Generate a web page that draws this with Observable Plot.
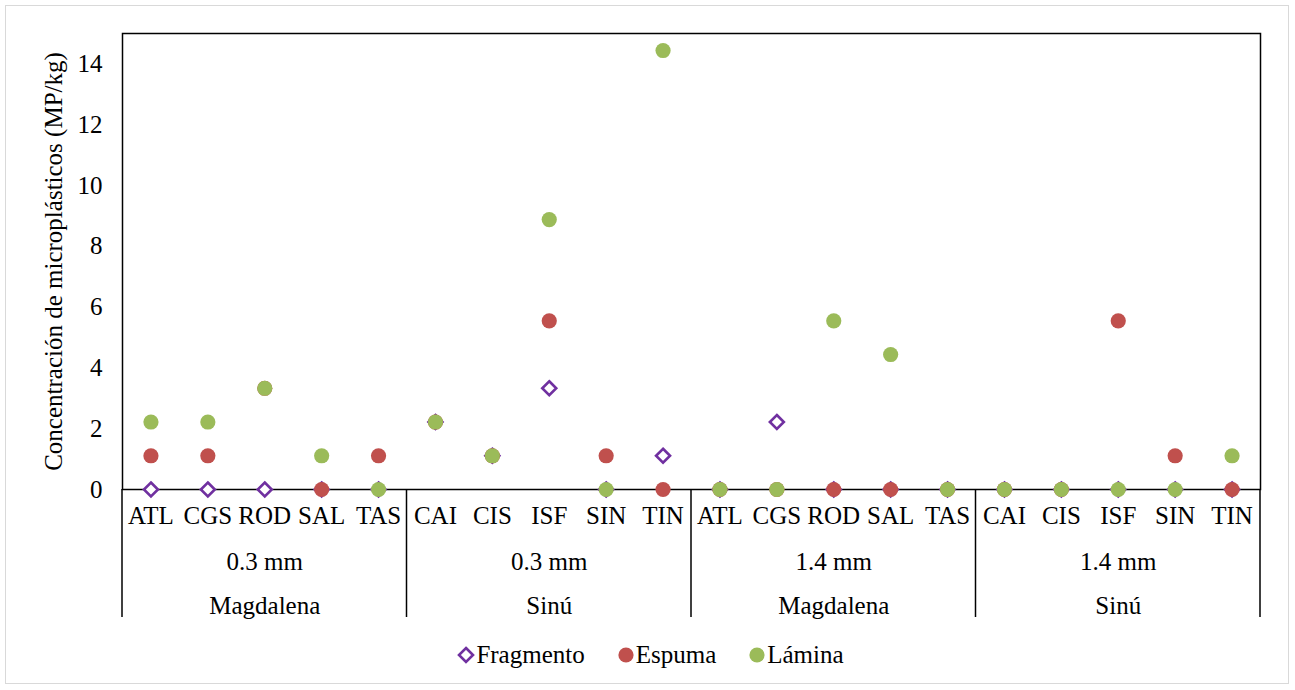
<!DOCTYPE html>
<html>
<head>
<meta charset="utf-8">
<script src="https://cdn.jsdelivr.net/npm/d3@7"></script>
<script src="https://cdn.jsdelivr.net/npm/@observablehq/plot@0.6"></script>
<style>
  body { margin: 0; background: #fff; font-family: "Liberation Serif", "Times New Roman", serif; }
  #wrap { position: relative; width: 1295px; height: 690px; overflow: hidden; }
  #border { position: absolute; left: 5px; top: 5px; width: 1284px; height: 679px; border: 1.5px solid #d9d9d9; box-sizing: border-box; }
  #chart { position: absolute; left: 0; top: 0; }
  #legend { position: absolute; left: 0; top: 641px; width: 1295px; display: flex; justify-content: center; align-items: center; font-size: 25px; color: #000; padding-left: 6px; box-sizing: border-box; }
  .item { display: flex; align-items: center; margin: 0 16px; }
  .item svg { margin-right: 1px; }
</style>
</head>
<body>
<div id="wrap">
  <div id="border"></div>
  <div id="chart"></div>
  <div id="legend"></div>
</div>
<script>
const sites = ["ATL","CGS","ROD","SAL","TAS","CAI","CIS","ISF","SIN","TIN",
               "ATL","CGS","ROD","SAL","TAS","CAI","CIS","ISF","SIN","TIN"];
const sizeLabels = ["0.3 mm","0.3 mm","1.4 mm","1.4 mm"];
const riverLabels = ["Magdalena","Sinú","Magdalena","Sinú"];
const groupSize = 5;

const fragmento = [0,0,0,0,0, 2.22,1.11,3.33,0,1.11, 0,2.22,0,0,0, 0,0,0,0,0];
const espuma    = [1.11,1.11,3.33,0,1.11, 2.22,1.11,5.55,1.11,0, 0,0,0,0,0, 0,0,5.55,1.11,0];
const lamina    = [2.22,2.22,3.33,1.11,0, 2.22,1.11,8.88,0,14.44, 0,0,5.55,4.44,0, 0,0,0,0,1.11];

const seriesNames = ["Fragmento","Espuma","Lámina"];
const colors = {Fragmento: "#7030A0", Espuma: "#C0504D", "Lámina": "#9BBB59"};

const yTicks = [0,2,4,6,8,10,12,14];

const rows = s => s.map((v,i) => ({i: i + 0.5, v}));
const groups = sizeLabels.map((s,g) => ({c: g*groupSize + groupSize/2, size: s, river: riverLabels[g]}));
const bounds = d3.range(0, sites.length + 1, groupSize);

const W = 1295, H = 630, mL = 122, mR = 35, mT = 33, mB = 141;
const font = "'Liberation Serif', 'Times New Roman', serif";
const fs = 25;

const plot = Plot.plot({
  width: W, height: H,
  marginLeft: mL, marginRight: mR, marginTop: mT, marginBottom: mB,
  style: {fontFamily: font, fontSize: fs + "px", color: "#000", background: "transparent"},
  x: {domain: [0, sites.length]},
  y: {domain: [0, 15]},
  marks: [
    Plot.frame({stroke: "#000", strokeWidth: 1.5}),
    Plot.axisY({ticks: yTicks, tickSize: 0, tickPadding: 20, fontSize: fs,
      label: "Concentración de microplásticos (MP/kg)", labelAnchor: "center",
      labelArrow: "none", labelOffset: 78}),
    Plot.axisX({ticks: sites.map((_, i) => i + 0.5), tickFormat: d => sites[Math.floor(d)],
      tickSize: 0, tickPadding: 17, fontSize: fs, label: null}),
    // group divider lines for the multi-level category axis
    (index, scales, values, dims) => {
      const g = d3.create("svg:g");
      const yb = dims.height - dims.marginBottom;
      for (const b of bounds) {
        const x = scales.x(b);
        g.append("line").attr("x1", x).attr("x2", x).attr("y1", yb).attr("y2", yb + 128)
          .attr("stroke", "#000").attr("stroke-width", 1.5);
      }
      return g.node();
    },
    Plot.text(groups, {x: "c", text: "size", frameAnchor: "bottom", lineAnchor: "middle", dy: 72, fontSize: fs}),
    Plot.text(groups, {x: "c", text: "river", frameAnchor: "bottom", lineAnchor: "middle", dy: 116, fontSize: fs}),
    Plot.dot(rows(fragmento), {x: "i", y: "v", symbol: "diamond2", r: 6.3,
      stroke: colors.Fragmento, strokeWidth: 2.6, fill: "white"}),
    Plot.dot(rows(espuma), {x: "i", y: "v", r: 7.6, fill: colors.Espuma, stroke: "none"}),
    Plot.dot(rows(lamina), {x: "i", y: "v", r: 7.6, fill: colors["Lámina"], stroke: "none"})
  ]
});
document.getElementById("chart").appendChild(plot);

// legend
const leg = document.getElementById("legend");
seriesNames.forEach(n => {
  const it = document.createElement("div");
  it.className = "item";
  const sym = n === "Fragmento"
    ? `<svg width="18" height="18"><path d="M9,2 L16,9 L9,16 L2,9 Z" fill="white" stroke="${colors[n]}" stroke-width="2.6"/></svg>`
    : `<svg width="18" height="18"><circle cx="9" cy="9" r="7.6" fill="${colors[n]}"/></svg>`;
  it.innerHTML = sym + `<span>${n}</span>`;
  leg.appendChild(it);
});
</script>
</body>
</html>
